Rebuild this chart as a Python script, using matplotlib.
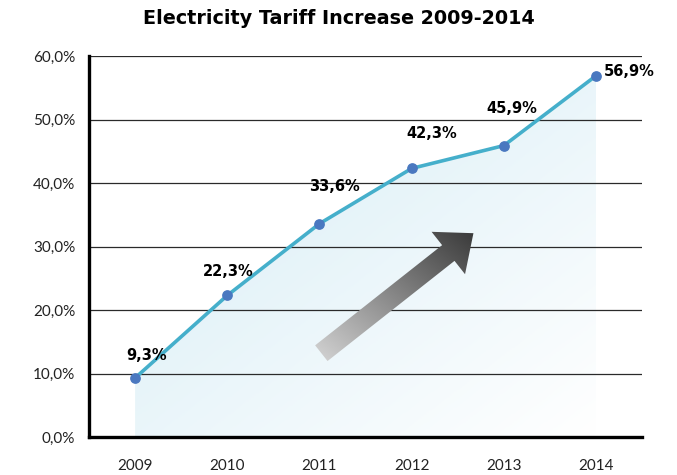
import numpy as np
import matplotlib.pyplot as plt
from matplotlib.patches import Polygon
from matplotlib.colors import LinearSegmentedColormap

# данные
years = ['2009', '2010', '2011', '2012', '2013', '2014']
values = [9.3, 22.3, 33.6, 42.3, 45.9, 56.9]
labels = ['9,3%', '22,3%', '33,6%', '42,3%', '45,9%', '56,9%']
yticks = [0, 10, 20, 30, 40, 50, 60]
ytick_labels = ['0,0%', '10,0%', '20,0%', '30,0%', '40,0%', '50,0%', '60,0%']

plt.rcParams['font.family'] = ['Lato', 'DejaVu Sans']

fig = plt.figure(figsize=(6.77, 4.75), dpi=100)
ax = fig.add_axes([0.1315, 0.08, 0.817, 0.802])
x = np.arange(len(years))
ax.set_xlim(-0.5, 5.5)
ax.set_ylim(0, 60)

# сетка
for t in yticks[1:]:
    ax.axhline(t, color='#2a2a2a', lw=0.9, zorder=1)

# заливка под линией градиентом
poly = Polygon(list(zip(x, values)) + [(x[-1], 0), (x[0], 0)], closed=True,
               facecolor='none', edgecolor='none')
ax.add_patch(poly)
gx, gy = np.meshgrid(np.linspace(0, 1, 200), np.linspace(0, 1, 200))
grad = np.clip(0.6 * gy + 0.55 * (1 - gx), 0, 1)
cmap_fill = LinearSegmentedColormap.from_list('f', ['#ffffff', '#d9eef6'])
im = ax.imshow(grad, extent=[x[0], x[-1], 0, 60], origin='lower', cmap=cmap_fill,
               aspect='auto', zorder=0.5, vmin=0, vmax=1)
im.set_clip_path(poly)

# стрелка: строим в пикселях, потом переводим в координаты данных
tail = ax.transData.transform((2.02, 13.2))
tip = ax.transData.transform((3.67, 32.1))
d = tip - tail
u = d / np.hypot(*d)
n = np.array([-u[1], u[0]])
shaft_w, head_w, head_l = 20, 54, 32
base = tip - u * head_l
pts_px = [tail + n * shaft_w / 2, base + n * shaft_w / 2, base + n * head_w / 2, tip,
          base - n * head_w / 2, base - n * shaft_w / 2, tail - n * shaft_w / 2]
pts = ax.transData.inverted().transform(np.array(pts_px))
arrow = Polygon(pts, closed=True, facecolor='none', edgecolor='none')
ax.add_patch(arrow)
ag = np.linspace(0, 1, 200)[None, :] * np.ones((200, 1))
ag = (ag + ag.T) / 2
cmap_arr = LinearSegmentedColormap.from_list('a', ['#d4d4d4', '#3a3a3a'])
x0, y0 = pts.min(axis=0)
x1, y1 = pts.max(axis=0)
ima = ax.imshow(ag, extent=[x0, x1, y0, y1], origin='lower', cmap=cmap_arr,
                aspect='auto', zorder=3)
ima.set_clip_path(arrow)
ax.set_xlim(-0.5, 5.5)
ax.set_ylim(0, 60)

# линия и точки
ax.plot(x, values, color='#45afcb', lw=2.6, zorder=4)
ax.scatter(x, values, s=45, color='#4a78c0', zorder=5)

# подписи значений
offsets = [(0.12, 3.6), (0.01, 3.7), (0.16, 5.8), (0.22, 5.5), (0.09, 5.8), (0.36, 0.7)]
for xi, v, lab, (dx, dy) in zip(x, values, labels, offsets):
    ax.text(xi + dx, v + dy, lab, ha='center', va='center', fontsize=10.5,
            fontweight='bold', family='DejaVu Sans', zorder=6)

ax.set_xticks(x)
ax.set_xticklabels(years)
ax.set_yticks(yticks)
ax.set_yticklabels(ytick_labels)
ax.tick_params(length=0, labelsize=11, pad=10, labelcolor='#222222')
ax.tick_params(axis='x', pad=16)
for s in ['top', 'right']:
    ax.spines[s].set_visible(False)
for s in ['left', 'bottom']:
    ax.spines[s].set_linewidth(2.4)
    ax.spines[s].set_color('black')
    ax.spines[s].set_zorder(6)

fig.suptitle('Electricity Tariff Increase 2009-2014', y=0.98, fontsize=13.8,
             fontweight='bold', family='DejaVu Sans')

fig.savefig('out.png', dpi=100)
